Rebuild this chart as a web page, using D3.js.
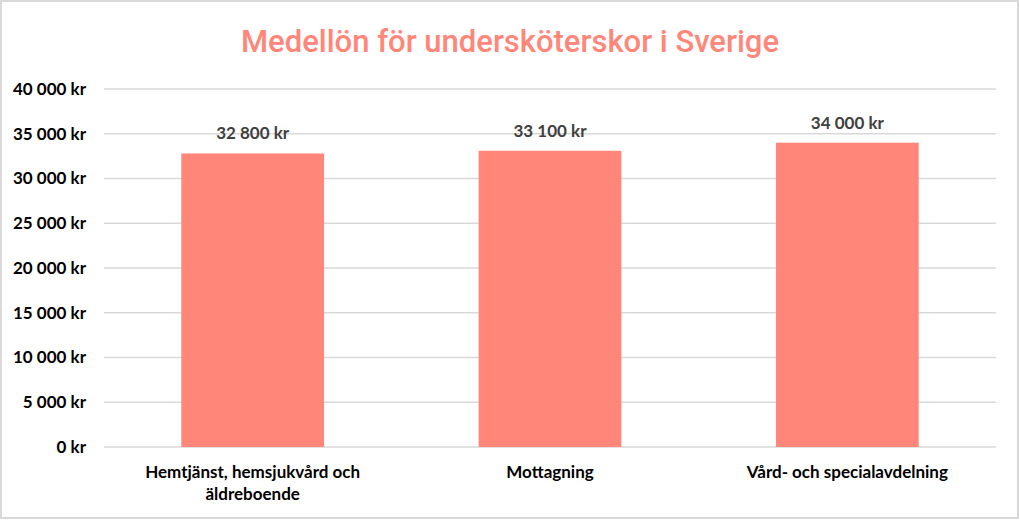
<!DOCTYPE html>
<html>
<head>
<meta charset="utf-8">
<script src="https://cdn.jsdelivr.net/npm/d3@7"></script>
<style>
  body { margin: 0; background: #fff; }
  text { font-family: Lato, "Open Sans", sans-serif; }
</style>
</head>
<body>
<div id="chart"></div>
<script>
var categories = [["Hemtjänst, hemsjukvård och", "äldreboende"], ["Mottagning"], ["Vård- och specialavdelning"]];
var salaries = [32800, 33100, 34000];
var yTicks = [0, 5000, 10000, 15000, 20000, 25000, 30000, 35000, 40000];

var width = 1020, height = 520;
var margin = {top: 89, right: 24, bottom: 73, left: 104};
var w = width - margin.left - margin.right;
var h = height - margin.top - margin.bottom;

var fmt = function(v) {
  return d3.format(",d")(v).replace(/,/g, " ") + " kr";
};

var svg = d3.select("#chart").append("svg")
    .attr("width", width)
    .attr("height", height);

// outer border
svg.append("rect")
    .attr("x", 1).attr("y", 1)
    .attr("width", width - 3).attr("height", height - 3)
    .attr("fill", "#fff")
    .attr("stroke", "#d9d9d9")
    .attr("stroke-width", 2);

svg.append("text")
    .attr("x", width / 2)
    .attr("y", 52)
    .attr("text-anchor", "middle")
    .attr("fill", "#ff8679")
    .attr("textLength", 538)
    .attr("lengthAdjust", "spacingAndGlyphs")
    .style("font-family", "Roboto, sans-serif")
    .style("font-size", "31px")
    .style("font-weight", "500")
    .text("Medellön för undersköterskor i Sverige");

var g = svg.append("g")
    .attr("transform", "translate(" + margin.left + "," + margin.top + ")");

var x = d3.scaleBand().domain(d3.range(categories.length)).range([0, w]).paddingInner(0.52).paddingOuter(0.26);
var y = d3.scaleLinear().domain([0, 40000]).range([h, 0]);

// gridlines
g.append("g")
  .selectAll("line").data(yTicks).enter().append("line")
    .attr("x1", 0).attr("x2", w)
    .attr("y1", function(d) { return y(d); })
    .attr("y2", function(d) { return y(d); })
    .attr("stroke", "#d9d9d9")
    .attr("stroke-width", 1.3);

var yAxis = g.append("g")
    .call(d3.axisLeft(y).tickValues(yTicks).tickSize(0).tickPadding(18).tickFormat(fmt));
yAxis.select(".domain").remove();
yAxis.selectAll("text")
    .attr("fill", "#000")
    .attr("dy", "0.32em")
    .style("font-size", "17px")
    .style("font-weight", "bold")
    .style("font-family", "Lato, sans-serif");

g.selectAll(".bar").data(salaries).enter().append("rect")
    .attr("class", "bar")
    .attr("x", function(d, i) { return x(i); })
    .attr("y", function(d) { return y(d); })
    .attr("width", x.bandwidth())
    .attr("height", function(d) { return h - y(d); })
    .attr("fill", "#ff8679");

g.selectAll(".val").data(salaries).enter().append("text")
    .attr("class", "val")
    .attr("x", function(d, i) { return x(i) + x.bandwidth() / 2; })
    .attr("y", function(d) { return y(d) - 14; })
    .attr("text-anchor", "middle")
    .attr("fill", "#404040")
    .style("font-size", "17px")
    .style("font-weight", "bold")
    .text(fmt);

var cat = g.selectAll(".cat").data(categories).enter().append("text")
    .attr("class", "cat")
    .attr("x", function(d, i) { return x(i) + x.bandwidth() / 2; })
    .attr("y", h + 31)
    .attr("text-anchor", "middle")
    .attr("fill", "#000")
    .style("font-size", "17px")
    .style("font-weight", "bold");

cat.selectAll("tspan").data(function(d) { return d; }).enter().append("tspan")
    .attr("x", function() { return d3.select(this.parentNode).attr("x"); })
    .attr("dy", function(d, i) { return i ? 22 : 0; })
    .text(function(d) { return d; });
</script>
</body>
</html>
